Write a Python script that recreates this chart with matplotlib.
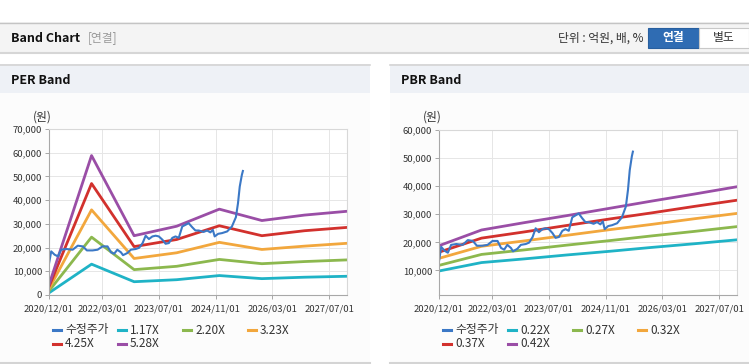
import numpy as np
import pandas as pd
import matplotlib
matplotlib.use('Agg')  # noqa
import matplotlib.pyplot as plt
import matplotlib.dates as mdates
from matplotlib.patches import Rectangle
from matplotlib.lines import Line2D

plt.rcParams['font.family'] = ['Noto Sans CJK KR', 'DejaVu Sans']

# price (adjusted) - same series on both charts
price_dates = ['2020-12-01', '2020-12-20', '2021-01-18', '2021-02-15', '2021-03-15',
               '2021-04-28', '2021-06-22', '2021-08-05', '2021-09-17', '2021-10-22',
               '2021-12-10', '2022-01-22', '2022-03-05', '2022-04-17', '2022-05-17',
               '2022-06-13', '2022-07-10', '2022-08-10', '2022-08-28', '2022-10-04',
               '2022-11-03', '2022-12-15', '2023-01-13', '2023-02-12', '2023-03-10',
               '2023-04-07', '2023-05-07', '2023-06-04', '2023-07-01', '2023-08-01',
               '2023-08-28', '2023-09-25', '2023-10-25', '2023-11-21', '2023-12-19',
               '2024-01-18', '2024-02-15', '2024-03-13', '2024-04-12', '2024-05-10',
               '2024-06-07', '2024-07-19', '2024-08-18', '2024-09-15', '2024-10-06',
               '2024-10-22', '2024-11-21', '2024-12-24', '2025-02-06', '2025-03-19',
               '2025-04-22', '2025-05-10', '2025-05-25', '2025-06-12', '2025-06-21']
price = [13200, 18400, 17000, 16300, 19100, 19400, 19100, 20800, 20500, 18800,
         18800, 19100, 20500, 20500, 18000, 17400, 19100, 18000, 16800, 17700,
         19100, 19400, 19900, 21900, 25000, 23600, 24700, 25000, 24700, 23300,
         21600, 21900, 24100, 24700, 24100, 28900, 29600, 30300, 28600, 27200,
         27200, 26600, 27200, 26400, 27500, 24700, 25800, 26100, 26800, 28900,
         32800, 38700, 45700, 50600, 52300]

band_dates = ['2020-12-01', '2021-12-01', '2022-12-01', '2023-12-01',
              '2024-12-01', '2025-12-01', '2026-12-01', '2027-12-01']

per_labels = ['1.17X', '2.20X', '3.23X', '4.25X', '5.28X']
per_bands = [
    [900, 13000, 5600, 6450, 8200, 6900, 7500, 7900],
    [1700, 24400, 10700, 12100, 15000, 13200, 14100, 14800],
    [2600, 35900, 15400, 17800, 22200, 19200, 20600, 21800],
    [3500, 47000, 20400, 23400, 29200, 25000, 27100, 28500],
    [4300, 58800, 25000, 29000, 36200, 31400, 33700, 35300],
]

pbr_labels = ['0.22X', '0.27X', '0.32X', '0.37X', '0.42X']
pbr_bands = [
    [9800, 12800, 14100, 15500, 16800, 18200, 19500, 20900],
    [11800, 15700, 17300, 19000, 20600, 22300, 23900, 25600],
    [14300, 18600, 20500, 22500, 24500, 26400, 28400, 30300],
    [16500, 21500, 23700, 26000, 28300, 30500, 32800, 35000],
    [18800, 24400, 27000, 29500, 32100, 34700, 37200, 39800],
]

tick_dates = ['2020-12-01', '2022-03-01', '2023-07-01', '2024-11-01',
              '2026-03-01', '2027-07-01']

price_color = '#3b78c6'
band_colors = ['#1fb3c6', '#8cb84e', '#f2a73d', '#d2312d', '#9a4ea6']

W, H = 749, 364
fig = plt.figure(figsize=(W / 100, H / 100), dpi=100)
fig.patch.set_facecolor('white')


def box(x0, y0, x1, y1, z=-5, **kw):
    # pixel coords from top-left
    r = Rectangle((x0 / W, 1 - y1 / H), (x1 - x0) / W, (y1 - y0) / H,
                  transform=fig.transFigure, zorder=z, **kw)
    fig.add_artist(r)


def hline(x0, x1, y, color, lw=1):
    fig.add_artist(Line2D([x0 / W, x1 / W], [1 - y / H, 1 - y / H],
                          transform=fig.transFigure, color=color, lw=lw,
                          zorder=-4))


def txt(x, y, s, **kw):
    fig.text(x / W, 1 - y / H, s, va='center', **kw)


# header bar
box(0, 22, W, 53, facecolor='#f4f4f4', edgecolor='none')
hline(0, W, 22.5, '#c4c4c4')
hline(0, W, 53, '#d6d6d6', lw=1.5)
txt(11, 38, 'Band Chart', fontsize=9, fontweight='bold', color='#111111')
txt(88, 38, '[연결]', fontsize=8.5, color='#999999')
txt(643, 38, '단위 : 억원, 배, %', fontsize=8.5, color='#333333', ha='right')
box(648, 28, 699, 48, z=3, facecolor='#2f6cb3', edgecolor='#285f9f', lw=0.8)
box(699, 28, 748.5, 48, z=3, facecolor='white', edgecolor='#c8c8c8', lw=0.8)
txt(673.5, 38, '연결', fontsize=8.5, fontweight='bold', color='white',
    ha='center', zorder=4)
txt(723.5, 38, '별도', fontsize=8.5, color='#333333', ha='center', zorder=4)

x_lo = pd.Timestamp('2020-12-01')
x_hi = pd.Timestamp('2027-12-01')

panels = [
    dict(x0=0, x1=370, title='PER Band', ax=(49, 129, 347, 295),
         ylim=(0, 70000), yticks=np.arange(0, 70001, 10000),
         labels=per_labels, bands=per_bands),
    dict(x0=390, x1=749, title='PBR Band', ax=(439, 130, 737, 295),
         ylim=(1250, 60000), yticks=np.arange(10000, 60001, 10000),
         labels=pbr_labels, bands=pbr_bands),
]

bd = pd.to_datetime(band_dates)
pd_dates = pd.to_datetime(price_dates)

for p in panels:
    x0, x1 = p['x0'], p['x1']
    box(x0, 64, x1, 364, facecolor='#fcfcfc', edgecolor='none')
    box(x0, 64, x1, 93, facecolor='#eef1f6', edgecolor='none')
    hline(x0, x1, 64.5, '#d4d4d4', lw=1.2)
    hline(x0, x1, 363, '#d4d4d4', lw=1.5)
    txt(x0 + 11, 80, p['title'], fontsize=9, fontweight='bold', color='#111111')

    l, t, r, b = p['ax']
    ax = fig.add_axes([l / W, 1 - b / H, (r - l) / W, (b - t) / H])
    ax.set_facecolor('white')
    for col, vals in zip(band_colors, p['bands']):
        ax.plot(bd, vals, color=col, lw=2)
    ax.plot(pd_dates, price, color=price_color, lw=1.5)

    ax.set_xlim(x_lo, x_hi)
    ax.set_ylim(*p['ylim'])
    ax.set_xticks(pd.to_datetime(tick_dates))
    ax.xaxis.set_major_formatter(mdates.DateFormatter('%Y/%m/%d'))
    ax.set_yticks(p['yticks'])
    ax.set_yticklabels(['{:,}'.format(int(v)) for v in p['yticks']])
    ax.tick_params(axis='both', labelsize=6.8, colors='#333333', length=3,
                   width=0.6, color='#999999', pad=2)
    ax.tick_params(axis='x', pad=4)
    ax.grid(True, color='#e6e6e6', lw=0.7)
    ax.set_axisbelow(True)
    for s in ['top', 'right']:
        ax.spines[s].set_color('#d8d8d8')
    for s in ['left', 'bottom']:
        ax.spines[s].set_color('#a8a8a8')
    for s in ax.spines.values():
        s.set_linewidth(0.8)

    txt(l - 7, 117, '(원)', fontsize=8.5, color='#333333', ha='center')

    # legend
    names = ['수정주가'] + p['labels']
    cols = [price_color] + band_colors
    for i, (nm, c) in enumerate(zip(names, cols)):
        row, ci = divmod(i, 4)
        lx = x0 + 53 + ci * 65
        ly = 330 + row * 13.5
        fig.add_artist(Line2D([lx / W, (lx + 8) / W], [1 - ly / H, 1 - ly / H],
                              transform=fig.transFigure, color=c, lw=2.2))
        txt(lx + 12, ly, nm, fontsize=8.5, color='#333333')

fig.savefig('out.png', dpi=100)
